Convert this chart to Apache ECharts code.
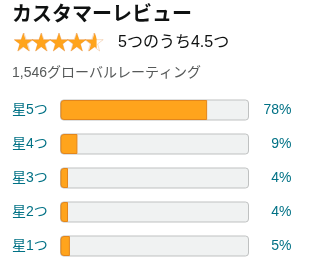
<!DOCTYPE html>
<html><head><meta charset="utf-8">
<script src="https://cdn.jsdelivr.net/npm/echarts@6/dist/echarts.min.js"></script>
<style>html,body{margin:0;padding:0;background:#fff}#c{width:311px;height:274px}</style>
</head><body><div id="c"></div>
<script>
const titleText = 'カスタマーレビュー';
const ratingText = '5つのうち4.5つ';
const countText = '1,546グローバルレーティング';
const averageRating = 4.5;
const maxRating = 5;
const categories = ['星5つ', '星4つ', '星3つ', '星2つ', '星1つ'];
const percents = [78, 9, 4, 4, 5];
const percentLabels = percents.map(v => v + '%');

const FONT = '"Liberation Sans", Arial, "Noto Sans CJK JP", sans-serif';
const STAR = 'path://M50,2 L61.8,36.1 L98,36.1 L68.9,57.9 L79.5,94 L50,72 L20.5,94 L31.1,57.9 L2,36.1 L38.2,36.1 Z';

const chart = echarts.init(document.getElementById('c'), null, {renderer: 'canvas'});
chart.setOption({
  animation: false,
  title: [
    {text: titleText, left: 12, top: 5, padding: 0, textStyle: {fontFamily: FONT, fontSize: 20, fontWeight: 'bold', color: '#0f1111'}},
    {text: ratingText, left: 118, top: 35, padding: 0, textStyle: {fontFamily: FONT, fontSize: 16, fontWeight: 'normal', color: '#0f1111'}},
    {text: countText, left: 12, top: 66, padding: 0, textStyle: {fontFamily: FONT, fontSize: 14, fontWeight: 'normal', color: '#565959'}}
  ],
  grid: [
    {left: 60.5, width: 188, top: 93, height: 170},
    {left: 12, width: 94, top: 33, height: 18}
  ],
  xAxis: [
    {gridIndex: 0, type: 'value', min: 0, max: 100, show: false},
    {gridIndex: 1, type: 'value', min: 0, max: maxRating, show: false}
  ],
  yAxis: [
    {gridIndex: 0, type: 'category', data: categories, inverse: true,
     axisLine: {show: false}, axisTick: {show: false},
     axisLabel: {align: 'left', margin: 48.5, fontFamily: FONT, fontSize: 14, color: '#007185'}},
    {gridIndex: 0, type: 'category', data: percentLabels, inverse: true, position: 'right',
     axisLine: {show: false}, axisTick: {show: false},
     axisLabel: {align: 'right', margin: 43, fontFamily: FONT, fontSize: 14, color: '#007185'}},
    {gridIndex: 1, type: 'category', data: ['r'], show: false}
  ],
  series: [
    {type: 'bar', xAxisIndex: 0, yAxisIndex: 0, data: percents, barWidth: 20,
     showBackground: true,
     backgroundStyle: {color: '#f0f2f2', borderColor: '#bfc1c1', borderWidth: 1, borderRadius: 3},
     itemStyle: {color: '#ffa41c', borderColor: '#e3861c', borderWidth: 1, borderRadius: [3, 0, 0, 3]}},
    {type: 'pictorialBar', xAxisIndex: 1, yAxisIndex: 2, data: [maxRating], symbol: STAR,
     symbolRepeat: maxRating, symbolBoundingData: maxRating, symbolSize: [18.5, 18], barCategoryGap: 0, barGap: '-100%',
     itemStyle: {color: '#ffffff', borderColor: '#de7921', borderWidth: 5.5}, z: 2},
    {type: 'pictorialBar', xAxisIndex: 1, yAxisIndex: 2, data: [averageRating], symbol: STAR,
     symbolRepeat: maxRating, symbolBoundingData: maxRating, symbolClip: true, symbolSize: [18.5, 18], barCategoryGap: 0, barGap: '-100%',
     itemStyle: {color: '#ffa41c', borderColor: '#de7921', borderWidth: 4}, z: 3}
  ]
});
</script></body></html>
